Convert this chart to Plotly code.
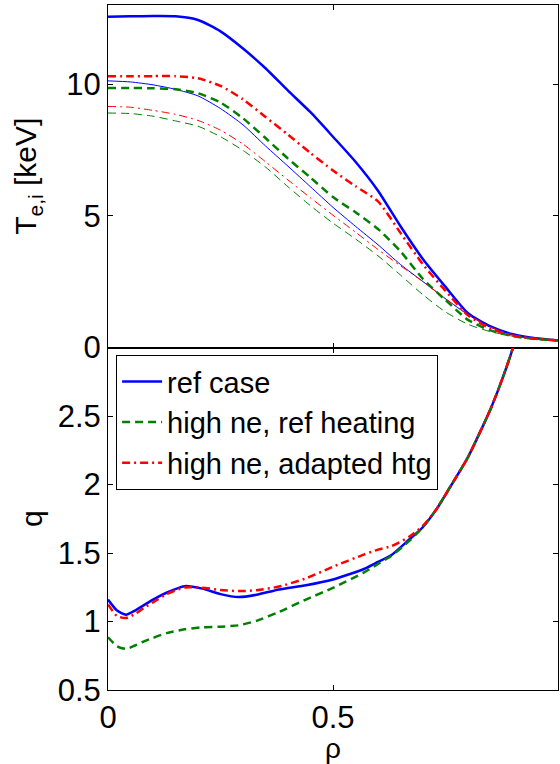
import plotly.graph_objects as go

# ---- data ----
rho_T = [0, 0.05, 0.1, 0.15, 0.2, 0.25, 0.3, 0.35, 0.4, 0.45, 0.5, 0.55, 0.6,
         0.65, 0.7, 0.75, 0.8, 0.85, 0.9, 0.95, 1.0]

Te_ref = [12.55, 12.57, 12.58, 12.57, 12.43, 12.0, 11.35, 10.6, 9.75, 8.93, 8.0,
          7.05, 5.95, 4.6, 3.35, 2.3, 1.3, 0.8, 0.5, 0.35, 0.27]
Te_hne = [9.85, 9.85, 9.84, 9.8, 9.65, 9.3, 8.7, 7.95, 7.17, 6.45, 5.71, 5.13, 4.5,
          3.65, 2.6, 1.8, 1.05, 0.65, 0.43, 0.32, 0.27]
Te_hne_adapt = [10.3, 10.3, 10.3, 10.3, 10.22, 9.93, 9.42, 8.75, 8.08, 7.38, 6.72,
                6.12, 5.55, 4.35, 3.15, 2.15, 1.22, 0.72, 0.45, 0.33, 0.27]

Ti_ref = [10.12, 10.08, 9.97, 9.8, 9.55, 9.07, 8.45, 7.65, 6.88, 6.1, 5.32, 4.6,
          3.9, 3.15, 2.5, 1.85, 1.25, 0.78, 0.48, 0.34, 0.27]
Ti_hne = [8.9, 8.88, 8.78, 8.6, 8.4, 8.0, 7.48, 6.85, 6.1, 5.38, 4.72, 4.12, 3.48,
          2.75, 2.0, 1.35, 0.88, 0.6, 0.43, 0.32, 0.27]
Ti_hne_adapt = [9.15, 9.12, 9.0, 8.85, 8.62, 8.25, 7.72, 7.05, 6.36, 5.68, 5.02,
                4.38, 3.72, 3.1, 2.5, 1.85, 1.25, 0.78, 0.48, 0.34, 0.27]

rho_q = [0, 0.02, 0.04, 0.06, 0.08, 0.1, 0.13, 0.17, 0.21, 0.25, 0.29, 0.33, 0.38,
         0.44, 0.5, 0.57, 0.6, 0.63, 0.67, 0.7, 0.73, 0.76, 0.8, 0.85, 0.875, 0.9,
         0.95, 1.0]
q_ref = [1.16, 1.08, 1.05, 1.08, 1.12, 1.16, 1.21, 1.258, 1.24, 1.2, 1.178, 1.195,
         1.234, 1.265, 1.307, 1.385, 1.435, 1.485, 1.60, 1.69, 1.82, 1.98, 2.2, 2.55,
         2.76, 3.0, 3.65, 4.5]
q_hne = [0.885, 0.82, 0.80, 0.825, 0.855, 0.88, 0.915, 0.943, 0.958, 0.962, 0.972,
         1.005, 1.07, 1.16, 1.246, 1.36, 1.42, 1.48, 1.59, 1.69, 1.82, 1.98, 2.2, 2.55,
         2.76, 3.0, 3.65, 4.5]
q_hne_adapt = [1.125, 1.04, 1.025, 1.055, 1.10, 1.14, 1.20, 1.248, 1.247, 1.23, 1.222,
               1.228, 1.255, 1.315, 1.40, 1.49, 1.525, 1.55, 1.62, 1.70, 1.82, 1.98,
               2.2, 2.55, 2.76, 3.0, 3.65, 4.5]

names = ["ref case", "high ne, ref heating", "high ne, adapted htg"]
colors = ["#0000ff", "#008000", "#ff0000"]
dashes = ["solid", "8px,5px", "8px,4px,2px,4px"]

fig = go.Figure()

Te_list = [Te_ref, Te_hne, Te_hne_adapt]
Ti_list = [Ti_ref, Ti_hne, Ti_hne_adapt]
q_list = [q_ref, q_hne, q_hne_adapt]

for i in range(3):
    fig.add_trace(go.Scatter(x=rho_T, y=Te_list[i], mode="lines",
                             line=dict(color=colors[i], width=2.5, dash=dashes[i],
                                       shape="spline", smoothing=0.6),
                             showlegend=False, xaxis="x", yaxis="y"))
    fig.add_trace(go.Scatter(x=rho_T, y=Ti_list[i], mode="lines",
                             line=dict(color=colors[i], width=1, dash=dashes[i],
                                       shape="spline", smoothing=0.6),
                             showlegend=False, xaxis="x", yaxis="y"))
for i in range(3):
    fig.add_trace(go.Scatter(x=rho_q, y=q_list[i], mode="lines", name=names[i],
                             line=dict(color=colors[i], width=2.5, dash=dashes[i],
                                       shape="spline", smoothing=0.6),
                             showlegend=True, xaxis="x2", yaxis="y2"))

FONT = "Liberation Sans, Arial, sans-serif"
axcommon = dict(showline=True, linecolor="black", linewidth=1, mirror="ticks",
                ticks="inside", ticklen=5, tickcolor="black", showgrid=False,
                zeroline=False, tickfont=dict(size=31, color="black", family=FONT))

fig.update_layout(
    width=560, height=764,
    margin=dict(l=108, r=2, t=5, b=74),
    plot_bgcolor="white", paper_bgcolor="white",
    font=dict(family=FONT, color="black"),
    xaxis=dict(domain=[0, 1], anchor="y", range=[0, 1], tickvals=[0, 0.5, 1],
               showticklabels=False, **axcommon),
    yaxis=dict(domain=[0.5, 1], anchor="x", range=[0, 13], tickvals=[0, 5, 10],
               title=dict(text="T<sub>e,i</sub> [keV]", font=dict(size=30), standoff=20),
               **axcommon),
    xaxis2=dict(domain=[0, 1], anchor="y2", range=[0, 1], tickvals=[0, 0.5, 1],
                title=dict(text="ρ", font=dict(size=28), standoff=8),
                **axcommon),
    yaxis2=dict(domain=[0, 0.5], anchor="x2", range=[0.5, 3],
                tickvals=[0.5, 1, 1.5, 2, 2.5],
                title=dict(text="q", font=dict(size=30), standoff=6),
                **axcommon),
    legend=dict(x=0.018, y=0.489, xanchor="left", yanchor="top",
                bgcolor="white", bordercolor="black", borderwidth=1,
                font=dict(size=29, color="black", family=FONT),
                itemwidth=40),
)

fig.write_html("out.html")
